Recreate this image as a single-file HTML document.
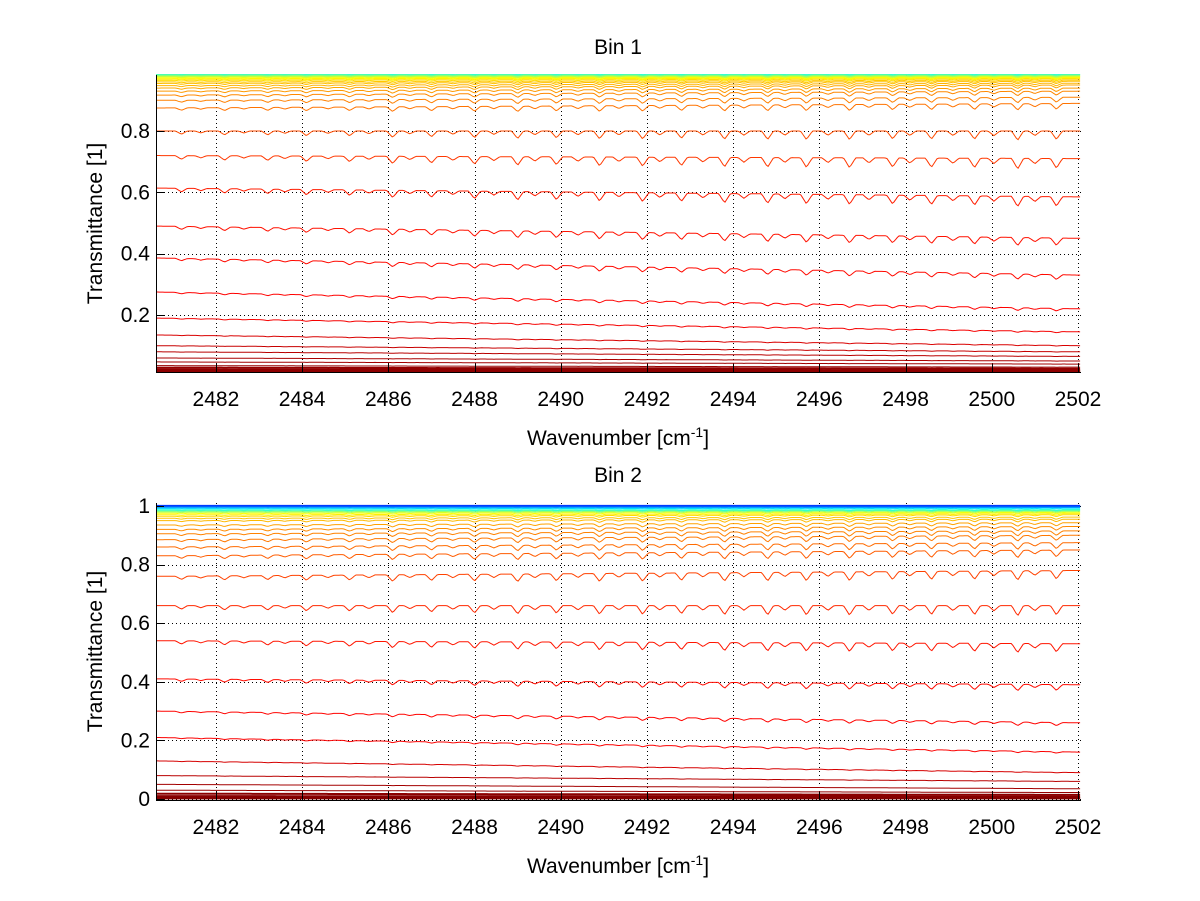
<!DOCTYPE html>
<html><head><meta charset="utf-8"><style>
body{margin:0;background:#fff;}
svg{display:block;font-family:"Liberation Sans",sans-serif;}
</style></head><body>
<svg id="fig" width="1200" height="901" viewBox="0 0 1200 901" xmlns="http://www.w3.org/2000/svg"></svg>
<script>
// ---- data ----
const xTicks = [2482,2484,2486,2488,2490,2492,2494,2496,2498,2500,2502];
const yTicksTop = [0.2,0.4,0.6,0.8];
const yTicksBottom = [0,0.2,0.4,0.6,0.8,1];
const yTickLabelsTop = ["0.2","0.4","0.6","0.8"];
const yTickLabelsBottom = ["0","0.2","0.4","0.6","0.8","1"];
// absorption line centres (cm^-1) and relative strengths
const lineCenters = [2481.2,2481.65,2482.2,2482.65,2483.2,2483.6,2484.1,2484.6,2485.1,2485.55,2486.1,2486.5,2487.0,2487.5,2488.0,2488.45,2489.0,2489.4,2489.9,2490.4,2490.9,2491.35,2491.9,2492.3,2492.8,2493.3,2493.8,2494.25,2494.8,2495.2,2495.7,2496.2,2496.7,2497.15,2497.7,2498.1,2498.6,2499.1,2499.6,2500.05,2500.6,2501.0,2501.5];
const lineStrengths = [0.5,0.3,0.6,0.3,0.6,0.35,0.7,0.35,0.7,0.4,0.9,0.4,0.8,0.45,0.9,0.45,1.0,0.5,0.9,0.5,1.0,0.5,1.0,0.5,0.9,0.5,1.0,0.5,1.0,0.5,1.0,0.5,1.0,0.5,0.9,0.5,0.9,0.5,0.9,0.5,1.0,0.5,0.9];
// curve baseline levels at left and right end
const bin1Left  = [0.015,0.018,0.022,0.028,0.035,0.047,0.06,0.08,0.10,0.135,0.19,0.275,0.386,0.49,0.614,0.72,0.80,0.875,0.90,0.917,0.93,0.94,0.948,0.955,0.96,0.965,0.969,0.972,0.975,0.977,0.979,0.981,0.983,0.985,0.987];
const bin1Right = [0.015,0.017,0.020,0.025,0.030,0.040,0.05,0.065,0.08,0.10,0.145,0.22,0.33,0.45,0.585,0.71,0.80,0.89,0.91,0.93,0.94,0.95,0.956,0.962,0.966,0.97,0.973,0.975,0.977,0.978,0.98,0.982,0.984,0.985,0.987];
const bin2Left  = [0.002,0.005,0.01,0.018,0.03,0.05,0.08,0.13,0.21,0.30,0.41,0.54,0.66,0.76,0.83,0.86,0.885,0.905,0.92,0.935,0.95,0.958,0.965,0.97,0.975,0.979,0.982,0.985,0.987,0.991,0.994,0.997,0.999,1.0,1.002];
const bin2Right = [0.002,0.004,0.008,0.014,0.022,0.035,0.06,0.09,0.16,0.26,0.39,0.53,0.66,0.78,0.85,0.875,0.90,0.915,0.93,0.943,0.955,0.962,0.97,0.974,0.978,0.981,0.984,0.986,0.988,0.992,0.995,0.997,0.999,1.0,1.002];

// ---- rendering ----
const NS="http://www.w3.org/2000/svg";
const svg=document.getElementById('fig');
function el(tag,attrs,parent){const e=document.createElementNS(NS,tag);for(const k in attrs)e.setAttribute(k,attrs[k]);(parent||svg).appendChild(e);return e;}
const X0=2480.61,X1=2502.07,PL=156,PR=1081;
function xs(w){return PL+(w-X0)/(X1-X0)*(PR-PL);}
function jet(v){const c=t=>Math.max(0,Math.min(1,t));
 return `rgb(${Math.round(255*c(1.5-Math.abs(4*v-3)))},${Math.round(255*c(1.5-Math.abs(4*v-2)))},${Math.round(255*c(1.5-Math.abs(4*v-1)))})`;}
const cmapL=[0,0.1,0.2,0.6,0.8,0.92,0.96,0.975,0.985,1.0,1.01];
const cmapV=[1.0,0.93,0.88,0.85,0.8,0.74,0.68,0.62,0.45,0.2,0.1];
function colorFor(L){for(let i=1;i<cmapL.length;i++){if(L<=cmapL[i]){const f=(L-cmapL[i-1])/(cmapL[i]-cmapL[i-1]);return jet(cmapV[i-1]+f*(cmapV[i]-cmapV[i-1]));}}return jet(0.1);}

function panel(name,top,bot,yMin,yMax,yt,ytl,left,right,title){
 const g=el('g',{});
 
 
 const ys=v=>bot-(v-yMin)/(yMax-yMin)*(bot-top);
 const clipId='clip-'+name;
 const cp=el('clipPath',{id:clipId},g);el('rect',{x:PL,y:top-1,width:PR-PL,height:bot-top+1},cp);
 const grid=el('g',{stroke:'#000','stroke-width':1,'stroke-dasharray':'1,3'},g);
 
 
 xTicks.forEach(t=>{const x=Math.round(xs(t))+0.5;el('line',{x1:x,x2:x,y1:top,y2:bot},grid);});
 yt.forEach(t=>{const y=Math.round(ys(t))+0.5;el('line',{x1:PL,x2:PR,y1:y,y2:y},grid);});
 const cg=el('g',{'clip-path':`url(#${clipId})`,fill:'none','stroke-width':1},g);
 for(let i=0;i<left.length;i++){
  let d='';
  for(let w=X0;w<=X1+0.001;w+=0.04){
   const f=(w-X0)/(X1-X0);
   const L=left[i]+(right[i]-left[i])*f;
   let a=0;
   for(let k=0;k<lineCenters.length;k++){const dx=Math.abs(w-lineCenters[k]);if(dx<0.5)a+=lineStrengths[k]*Math.max(0,1-dx/0.14);}
   const Lc=Math.min(L,1);
   const amp=0.2*Lc*Lc*Math.max(0,1-L);
   const v=L-amp*a*(0.8+0.4*f);
   d+=(d?'L':'M')+xs(w).toFixed(1)+','+ys(v).toFixed(1);
  }
  const p=el('path',{d:d,stroke:colorFor(left[i]),'stroke-width':left[i]<0.03?2:1},cg);
  
  
 }
 const ax=el('g',{stroke:'#000','stroke-width':1},g);
 
 
 el('line',{x1:PL+0.5,x2:PL+0.5,y1:top,y2:bot+0.5},ax);
 el('line',{x1:PL,x2:PR,y1:bot+0.5,y2:bot+0.5},ax);
 xTicks.forEach(t=>{const x=Math.round(xs(t))+0.5;el('line',{x1:x,x2:x,y1:bot,y2:bot-8},ax);});
 yt.forEach(t=>{const y=Math.round(ys(t))+0.5;el('line',{x1:PL,x2:PL+8,y1:y,y2:y},ax);});
 xTicks.forEach(t=>{const tx=el('text',{x:xs(t),y:bot+34,'font-size':21,'text-anchor':'middle'},g);tx.textContent=t;
  });
 yt.forEach((t,i)=>{const tx=el('text',{x:PL-6,y:ys(t)+7,'font-size':21,'text-anchor':'end'},g);tx.textContent=ytl[i];
  });
 const ti=el('text',{x:618,y:top-21,'font-size':21,'text-anchor':'middle'},g);ti.textContent=title;
 
 const xl=el('text',{x:618,y:bot+73,'font-size':21,'text-anchor':'middle'},g);
 xl.innerHTML='Wavenumber [cm<tspan dy="-8" font-size="14">-1</tspan><tspan dy="8">]</tspan>';
 
 const yc=(top+bot)/2;
 const yl=el('text',{x:102,y:yc,'font-size':21,'text-anchor':'middle',transform:`rotate(-90 102 ${yc})`},g);yl.textContent='Transmittance [1]';
 
}
panel('bin1-panel',75,372,0.0142,0.9826,yTicksTop,yTickLabelsTop,bin1Left,bin1Right,'Bin 1');
panel('bin2-panel',503,800,-0.0034,1.0102,yTicksBottom,yTickLabelsBottom,bin2Left,bin2Right,'Bin 2');
</script>
</body></html>
